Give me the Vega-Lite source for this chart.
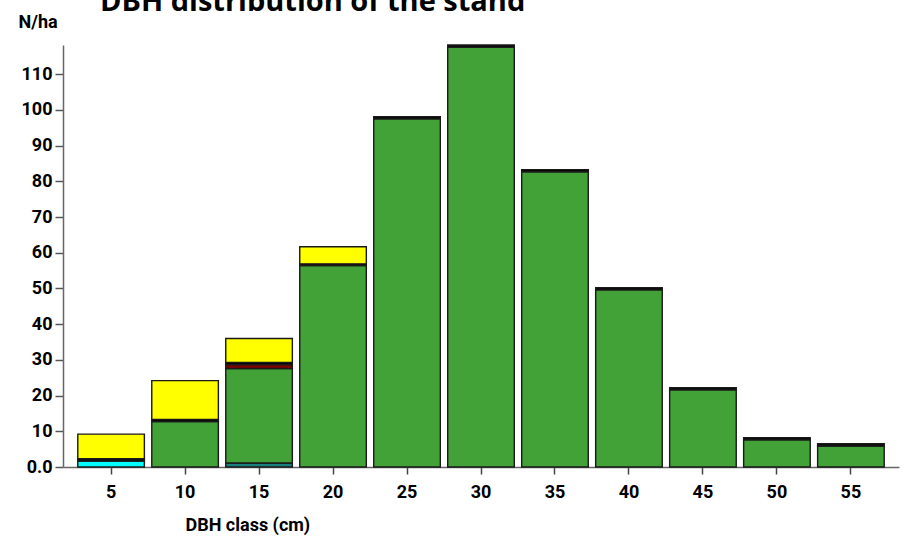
{
  "$schema": "https://vega.github.io/schema/vega-lite/v6.json",
  "autosize": {"type": "none"},
  "padding": {"left": 63, "top": 45, "right": 17, "bottom": 76},
  "width": 836,
  "height": 422,
  "background": "white",
  "title": {
    "text": "DBH distribution of the stand",
    "anchor": "start",
    "frame": "group",
    "font": "Open Sans",
    "fontSize": 29,
    "fontWeight": "bold",
    "color": "#000000",
    "dx": 37,
    "dy": 8
  },
  "data": {
    "values": [
      {"dbh": 5, "species": "s1", "rank": 1, "n": 1.7},
      {"dbh": 5, "species": "s5", "rank": 5, "n": 0.6},
      {"dbh": 5, "species": "s6", "rank": 6, "n": 6.9},
      {"dbh": 10, "species": "s3", "rank": 3, "n": 12.7},
      {"dbh": 10, "species": "s5", "rank": 5, "n": 0.6},
      {"dbh": 10, "species": "s6", "rank": 6, "n": 10.9},
      {"dbh": 15, "species": "s2", "rank": 2, "n": 1.1},
      {"dbh": 15, "species": "s3", "rank": 3, "n": 26.5},
      {"dbh": 15, "species": "s4", "rank": 4, "n": 1.1},
      {"dbh": 15, "species": "s5", "rank": 5, "n": 0.6},
      {"dbh": 15, "species": "s6", "rank": 6, "n": 6.7},
      {"dbh": 20, "species": "s3", "rank": 3, "n": 56.4},
      {"dbh": 20, "species": "s5", "rank": 5, "n": 0.5},
      {"dbh": 20, "species": "s6", "rank": 6, "n": 4.8},
      {"dbh": 25, "species": "s3", "rank": 3, "n": 97.5},
      {"dbh": 25, "species": "s5", "rank": 5, "n": 0.6},
      {"dbh": 30, "species": "s3", "rank": 3, "n": 117.6},
      {"dbh": 30, "species": "s5", "rank": 5, "n": 0.6},
      {"dbh": 35, "species": "s3", "rank": 3, "n": 82.7},
      {"dbh": 35, "species": "s5", "rank": 5, "n": 0.6},
      {"dbh": 40, "species": "s3", "rank": 3, "n": 49.6},
      {"dbh": 40, "species": "s5", "rank": 5, "n": 0.6},
      {"dbh": 45, "species": "s3", "rank": 3, "n": 21.6},
      {"dbh": 45, "species": "s5", "rank": 5, "n": 0.6},
      {"dbh": 50, "species": "s3", "rank": 3, "n": 7.6},
      {"dbh": 50, "species": "s5", "rank": 5, "n": 0.6},
      {"dbh": 55, "species": "s3", "rank": 3, "n": 5.9},
      {"dbh": 55, "species": "s5", "rank": 5, "n": 0.6}
    ]
  },
  "mark": {"type": "bar", "stroke": "#1a1a1a", "strokeWidth": 1.4},
  "encoding": {
    "x": {
      "field": "dbh",
      "type": "ordinal",
      "scale": {"paddingInner": 0.1, "paddingOuter": 0.2},
      "axis": {
        "title": "DBH class (cm)",
        "titleX": 122,
        "titleY": 58,
        "titleAlign": "left",
        "titleBaseline": "middle",
        "titleFont": "Roboto",
        "titleFontSize": 18,
        "titleFontWeight": "bold",
        "titleColor": "#000000",
        "labelAngle": 0,
        "labelFont": "Roboto",
        "labelFontSize": 18,
        "labelFontWeight": "bold",
        "labelColor": "#000000",
        "labelPadding": 9,
        "tickSize": 7,
        "tickColor": "#444444",
        "tickWidth": 1.5,
        "domainColor": "#666666",
        "domainWidth": 1.5,
        "grid": false
      }
    },
    "y": {
      "field": "n",
      "type": "quantitative",
      "aggregate": "sum",
      "stack": "zero",
      "scale": {"domain": [0, 118.2], "nice": false},
      "axis": {
        "title": "N/ha",
        "titleAngle": 0,
        "titleAlign": "left",
        "titleBaseline": "middle",
        "titleX": -45,
        "titleY": -23,
        "titleFont": "Roboto",
        "titleFontSize": 18,
        "titleFontWeight": "bold",
        "titleColor": "#000000",
        "values": [0, 10, 20, 30, 40, 50, 60, 70, 80, 90, 100, 110],
        "labelExpr": "datum.value == 0 ? '0.0' : datum.label",
        "labelFont": "Roboto",
        "labelFontSize": 18,
        "labelFontWeight": "bold",
        "labelColor": "#000000",
        "labelPadding": 3,
        "tickSize": 8,
        "tickColor": "#555555",
        "tickWidth": 1.5,
        "domainColor": "#666666",
        "domainWidth": 1.5,
        "grid": false
      }
    },
    "color": {
      "field": "species",
      "type": "nominal",
      "scale": {
        "domain": ["s1", "s2", "s3", "s4", "s5", "s6"],
        "range": ["#00ffff", "#1a7f7f", "#42a137", "#7f0000", "#000000", "#ffff00"]
      },
      "legend": null
    },
    "order": {"field": "rank", "type": "quantitative"}
  },
  "config": {"view": {"stroke": null}}
}
